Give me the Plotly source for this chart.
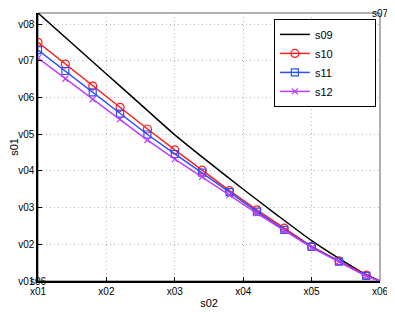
import plotly.graph_objects as go

# ---- data ----
x_black = [1.0, 1.5, 2.0, 2.5, 3.0, 3.5, 4.0, 4.5, 5.0, 5.5, 5.8, 6.0]
s09 = [8.30, 7.47, 6.64, 5.81, 4.98, 4.23, 3.50, 2.79, 2.10, 1.50, 1.17, 1.00]

x_mark = [1.0, 1.4, 1.8, 2.2, 2.6, 3.0, 3.4, 3.8, 4.2, 4.6, 5.0, 5.4, 5.8]
s10 = [7.50, 6.91, 6.31, 5.73, 5.14, 4.57, 4.02, 3.46, 2.94, 2.44, 1.94, 1.55, 1.16]
s11 = [7.29, 6.72, 6.14, 5.56, 4.99, 4.46, 3.95, 3.42, 2.89, 2.39, 1.93, 1.53, 1.14]
s12 = [7.07, 6.51, 5.95, 5.41, 4.84, 4.32, 3.84, 3.34, 2.84, 2.37, 1.91, 1.52, 1.13]
x_end = 6.0
y_end = 1.0

x_ticks = [1, 2, 3, 4, 5, 6]
x_labels = ["x01", "x02", "x03", "x04", "x05", "x06"]
y_ticks = [1, 2, 3, 4, 5, 6, 7, 8]
y_labels = ["v01", "v02", "v03", "v04", "v05", "v06", "v07", "v08"]

FONT = "Liberation Sans, Arial, sans-serif"
PAD = "\u00a0" * 12  # widens legend box like the reference

fig = go.Figure()
fig.add_trace(go.Scatter(x=x_black, y=s09, mode="lines", name="s09" + PAD,
                         line=dict(color="black", width=1.5, shape="spline", smoothing=0.6)))

series = [
    ("s10", s10, "rgb(255,30,30)", "circle-open", 8),
    ("s11", s11, "rgb(40,80,255)", "square-open", 7),
    ("s12", s12, "rgb(190,60,255)", "x-thin-open", 6),
]
for name, ys, col, sym, sz in series:
    fig.add_trace(go.Scatter(x=x_mark, y=ys, mode="lines+markers", name=name + PAD,
                             line=dict(color=col, width=1.5),
                             marker=dict(symbol=sym, size=sz, color=col,
                                         line=dict(color=col, width=1.2))))
    fig.add_trace(go.Scatter(x=[x_mark[-1], x_end], y=[ys[-1], y_end], mode="lines",
                             showlegend=False, hoverinfo="skip",
                             line=dict(color=col, width=1.5)))

axis_common = dict(showgrid=True, gridcolor="rgb(185,185,185)", griddash="1px,3px",
                   gridwidth=1, zeroline=False, showline=True, linecolor="black",
                   linewidth=1.5, ticks="inside", ticklen=4, tickcolor="black",
                   automargin=False,
                   tickfont=dict(family=FONT, size=10, color="black"))

# page body adds an 8px offset; figure is sized to compensate
fig.update_layout(
    width=387, height=304,
    margin=dict(l=30, r=15, t=5, b=31),
    paper_bgcolor="white", plot_bgcolor="white",
    showlegend=True,
    legend=dict(x=0.988, y=0.978, xanchor="right", yanchor="top",
                bgcolor="white", bordercolor="black", borderwidth=1,
                font=dict(family=FONT, size=11, color="black"),
                itemwidth=30, tracegroupgap=0),
    xaxis=dict(range=[1, 6], tickvals=x_ticks, ticktext=x_labels,
               title=dict(text="s02", font=dict(family=FONT, size=11, color="black"), standoff=4),
               **axis_common),
    yaxis=dict(range=[1, 8.3], tickvals=y_ticks, ticktext=y_labels,
               title=dict(text="s01", font=dict(family=FONT, size=11, color="black"), standoff=2),
               **axis_common),
    shapes=[dict(type="rect", xref="paper", yref="paper", x0=0, y0=0, x1=1, y1=1,
                 line=dict(color="rgb(100,100,100)", width=1), layer="below")],
    annotations=[
        dict(text="s07", xref="paper", yref="paper", x=1, y=1, xanchor="center",
             yanchor="middle", showarrow=False, font=dict(family=FONT, size=10, color="black")),
        dict(text="s06", xref="paper", yref="paper", x=0, y=0, xanchor="center",
             yanchor="middle", showarrow=False, font=dict(family=FONT, size=10, color="black")),
    ],
)

fig.write_html("out.html")
